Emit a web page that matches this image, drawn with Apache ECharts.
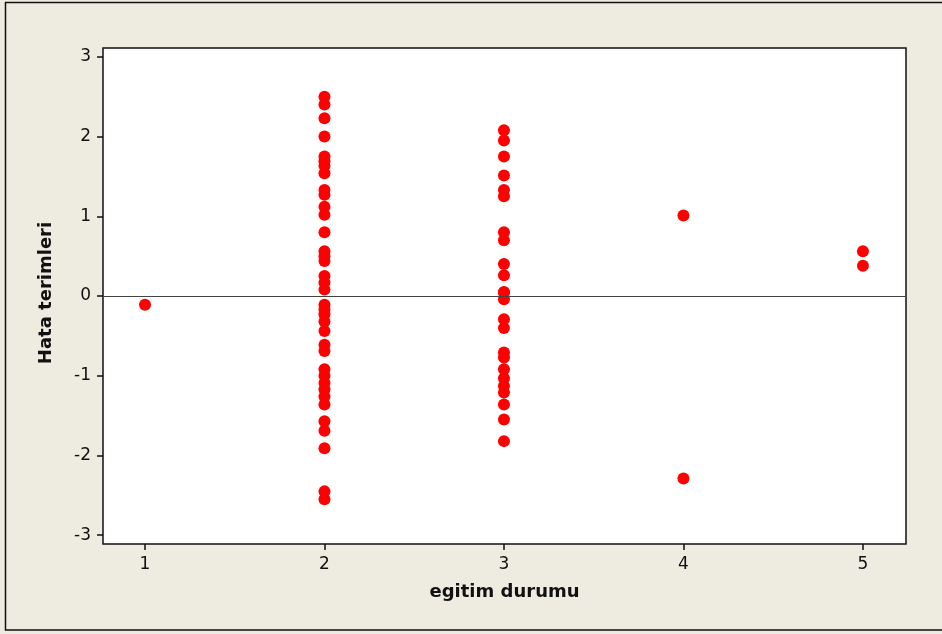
<!DOCTYPE html>
<html>
<head>
<meta charset="utf-8">
<script src="https://cdn.jsdelivr.net/npm/echarts@6/dist/echarts.min.js"></script>
<style>html,body{margin:0;padding:0;background:#EEEBE1;}#c{width:942px;height:634px;}</style>
</head>
<body>
<div id="c"></div>
<script>
const xTicks = [1, 2, 3, 4, 5];
const yTicks = [-3, -2, -1, 0, 1, 2, 3];
const xTitle = "egitim durumu";
const yTitle = "Hata terimleri";

const col1 = [-0.11];
const col2 = [2.50, 2.40, 2.23, 2.00, 1.75, 1.69, 1.63, 1.54, 1.33, 1.27, 1.12, 1.02, 0.80, 0.56, 0.50, 0.44, 0.25, 0.17, 0.08,
  -0.11, -0.17, -0.23, -0.32, -0.44, -0.61, -0.69, -0.92, -1.00, -1.09, -1.17, -1.26, -1.36, -1.57, -1.69, -1.91, -2.45, -2.55];
const col3 = [2.08, 1.95, 1.75, 1.51, 1.33, 1.25, 0.80, 0.70, 0.40, 0.26, 0.05, 0.04, -0.04, -0.29, -0.40, -0.71, -0.77, -0.92,
  -1.03, -1.13, -1.21, -1.36, -1.55, -1.82];
const col4 = [1.01, -2.29];
const col5 = [0.56, 0.38];

const cols = [[1, col1], [2, col2], [3, col3], [4, col4], [5, col5]];
const points = [];
cols.forEach(([x, vals]) => vals.forEach(v => points.push([x, v])));

const chart = echarts.init(document.getElementById('c'));
const font = "DejaVu Sans";
chart.setOption({
  backgroundColor: '#EEEBE1',
  animation: false,
  grid: {left: 103, top: 48, right: 36, bottom: 90, show: true, backgroundColor: '#FFFFFF', borderColor: '#111', borderWidth: 1.5},
  xAxis: {
    type: 'value', min: 0.766, max: 5.24,
    name: xTitle, nameLocation: 'middle', nameGap: 39,
    nameTextStyle: {fontFamily: font, fontWeight: 'bold', fontSize: 18, color: '#111'},
    axisLine: {show: false, onZero: false},
    splitLine: {show: false},
    axisTick: {show: true, length: 6, customValues: xTicks, lineStyle: {color: '#111', width: 1.5}},
    axisLabel: {customValues: xTicks, margin: 12, fontFamily: font, fontSize: 17, color: '#111'}
  },
  yAxis: {
    type: 'value', min: -3.11, max: 3.11,
    axisLine: {show: false, onZero: false},
    splitLine: {show: false},
    axisTick: {show: true, length: 6, customValues: yTicks, lineStyle: {color: '#111', width: 1.5}},
    axisLabel: {customValues: yTicks, margin: 12, fontFamily: font, fontSize: 17, color: '#111'}
  },
  graphic: [
    {type: 'polyline', shape: {points: [[950, 2.5], [5.5, 2.5], [5.5, 630], [950, 630]]}, style: {fill: null, stroke: '#111', lineWidth: 1.5}, silent: true, z: 100},
    {type: 'text', x: 46, y: 293, rotation: Math.PI / 2, style: {text: yTitle, fontFamily: font, fontWeight: 'bold', fontSize: 18, fill: '#111', align: 'center', verticalAlign: 'middle'}}
  ],
  series: [{
    type: 'scatter', data: points, symbolSize: 12,
    itemStyle: {color: '#FF0000', opacity: 1},
    markLine: {
      silent: true, symbol: 'none', label: {show: false},
      lineStyle: {color: '#444', width: 1, type: 'solid'},
      data: [{yAxis: 0}]
    },
    z: 3
  }]
});
</script>
</body>
</html>
